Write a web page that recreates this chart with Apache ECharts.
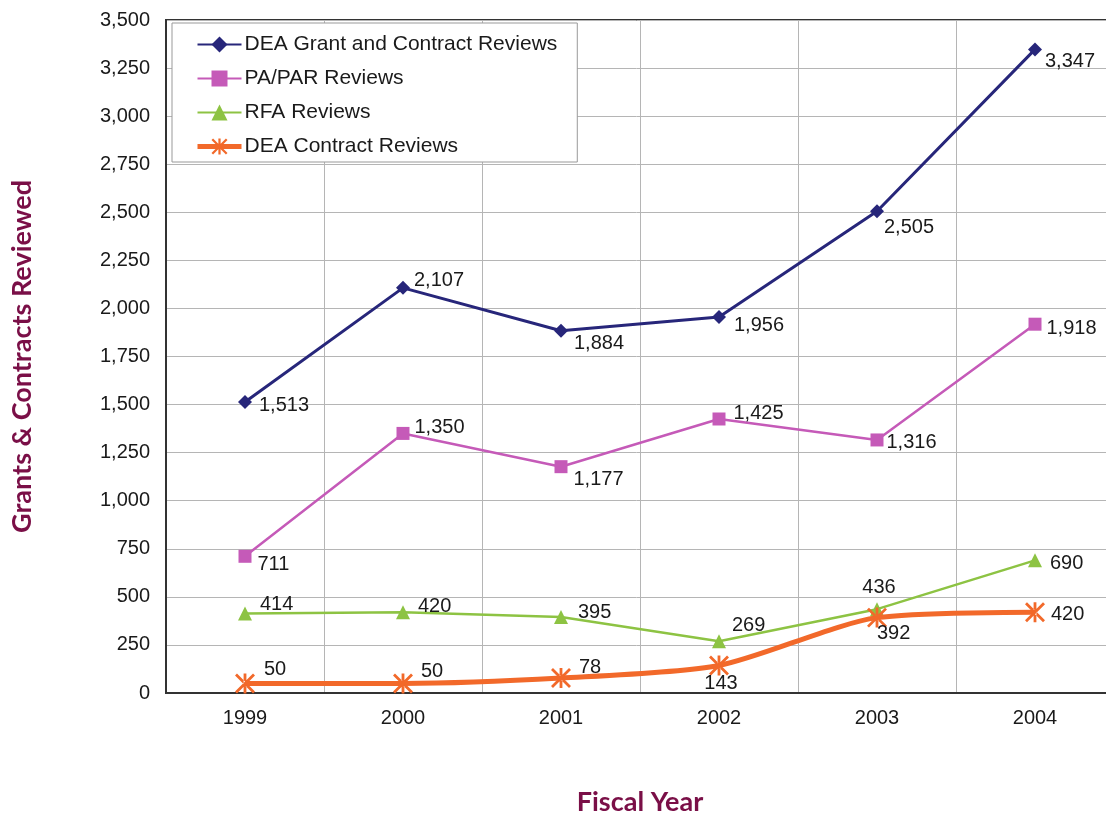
<!DOCTYPE html>
<html>
<head>
<meta charset="utf-8">
<script src="https://cdn.jsdelivr.net/npm/echarts@6/dist/echarts.min.js"></script>
<style>
  html, body { margin: 0; padding: 0; background: #fff; }
  #chart { width: 1106px; height: 818px; }
</style>
</head>
<body>
<div id="chart"></div>
<script>
const years = ['1999', '2000', '2001', '2002', '2003', '2004'];
const grantContract = [1513, 2107, 1884, 1956, 2505, 3347];
const paPar = [711, 1350, 1177, 1425, 1316, 1918];
const rfa = [414, 420, 395, 269, 436, 690];
const contractOnly = [50, 50, 78, 143, 392, 420];

// label placement per point: [position, dx, dy]
const placeGrant = [['right', 1, 3], ['right', -2, -7], ['right', 0, 13], ['right', 2, 9], ['right', -6, 16], ['right', -3, 12]];
const placePa = [['right', 0, 8], ['right', -1, -6], ['right', 0, 13], ['right', 2, -6], ['right', -3, 3], ['right', -1, 4]];
const placeRfa = [['right', 2, -9], ['right', 2, -6], ['right', 4, -5], ['right', 0, -16], ['top', 2, 1], ['right', 2, 3]];
const placeContract = [['right', 3, -14], ['right', 2, -12], ['right', 2, -11], ['bottom', 2, -8], ['right', -16, 16], ['right', 0, 2]];

const fmt = (v) => Number(v).toLocaleString('en-US');

// six-arm star marker: vertical bar plus an X
const asterisk = 'path://M-1.4 -10 L1.4 -10 L1.4 10 L-1.4 10 Z M8.01 9.99 L9.99 8.01 L-8.01 -9.99 L-9.99 -8.01 Z M-8.01 9.99 L-9.99 8.01 L8.01 -9.99 L9.99 -8.01 Z';

function withLabels(values, places) {
  return values.map((v, i) => ({
    value: v,
    label: { position: places[i][0], offset: [places[i][1], places[i][2]] }
  }));
}

const labelStyle = {
  show: true,
  color: '#1a1a1a',
  fontSize: 20,
  fontFamily: 'Liberation Sans, Arial, sans-serif',
  distance: 6,
  formatter: (p) => fmt(p.value)
};

const chart = echarts.init(document.getElementById('chart'), null, { renderer: 'canvas' });

chart.setOption({
  backgroundColor: '#ffffff',
  animation: false,
  textStyle: { fontFamily: 'Liberation Sans, Arial, sans-serif' },
  grid: {
    left: 166,
    top: 20,
    width: 948,
    height: 673,
    outerBoundsMode: 'none',
    containLabel: false,
    show: true,
    borderColor: '#333',
    borderWidth: 2,
    backgroundColor: 'transparent'
  },
  legend: {
    orient: 'vertical',
    left: 172,
    top: 23,
    padding: [11, 20, 5, 23],
    itemGap: 13,
    itemWidth: 44,
    itemHeight: 20,
    backgroundColor: '#ffffff',
    borderColor: '#999',
    borderWidth: 1,
    textStyle: { fontSize: 21, color: '#1a1a1a', fontFamily: 'Liberation Sans, Arial, sans-serif', padding: [0, 0, 0, -2] },
    data: [
      'DEA Grant and Contract Reviews',
      'PA/PAR Reviews',
      'RFA Reviews',
      { name: 'DEA Contract Reviews', lineStyle: { width: 5 } }
    ]
  },
  xAxis: {
    type: 'category',
    data: years,
    boundaryGap: true,
    name: 'Fiscal Year',
    nameLocation: 'middle',
    nameGap: 96,
    nameTextStyle: { color: '#7a0f47', fontSize: 27, fontWeight: 'bold', fontFamily: 'Lato, Open Sans, sans-serif' },
    axisLine: { lineStyle: { color: '#333', width: 2 } },
    axisTick: { show: false },
    axisLabel: { color: '#1a1a1a', fontSize: 20, margin: 15 },
    splitLine: { show: true, interval: 0, lineStyle: { color: '#b5b5b5', width: 1 } }
  },
  yAxis: {
    type: 'value',
    min: 0,
    max: 3500,
    interval: 250,
    name: 'Grants & Contracts Reviewed',
    nameLocation: 'middle',
    nameRotate: 90,
    nameGap: 130,
    nameTextStyle: { color: '#7a0f47', fontSize: 27, fontWeight: 'bold', fontFamily: 'Lato, Open Sans, sans-serif' },
    axisLine: { show: true, lineStyle: { color: '#333', width: 2 } },
    axisTick: { show: false },
    axisLabel: { color: '#1a1a1a', fontSize: 20, margin: 16, formatter: (v) => fmt(v) },
    splitLine: { show: true, lineStyle: { color: '#b5b5b5', width: 1 } }
  },
  series: [
    {
      name: 'DEA Grant and Contract Reviews',
      type: 'line',
      data: withLabels(grantContract, placeGrant),
      symbol: 'diamond',
      symbolSize: 14,
      itemStyle: { color: '#27267a' },
      lineStyle: { color: '#27267a', width: 3 },
      label: labelStyle,
      z: 5
    },
    {
      name: 'PA/PAR Reviews',
      type: 'line',
      data: withLabels(paPar, placePa),
      symbol: 'rect',
      symbolSize: 13,
      itemStyle: { color: '#c55ab8' },
      lineStyle: { color: '#c55ab8', width: 2.5 },
      label: labelStyle,
      z: 4
    },
    {
      name: 'RFA Reviews',
      type: 'line',
      data: withLabels(rfa, placeRfa),
      symbol: 'triangle',
      symbolSize: 14,
      itemStyle: { color: '#8dc343' },
      lineStyle: { color: '#8dc343', width: 2.5 },
      label: labelStyle,
      z: 3
    },
    {
      name: 'DEA Contract Reviews',
      type: 'line',
      data: withLabels(contractOnly, placeContract),
      symbol: asterisk,
      symbolSize: 20,
      smooth: 0.25,
      itemStyle: { color: '#f2692a' },
      lineStyle: { color: '#f2692a', width: 5 },
      label: labelStyle,
      z: 6
    }
  ]
});
</script>
</body>
</html>
